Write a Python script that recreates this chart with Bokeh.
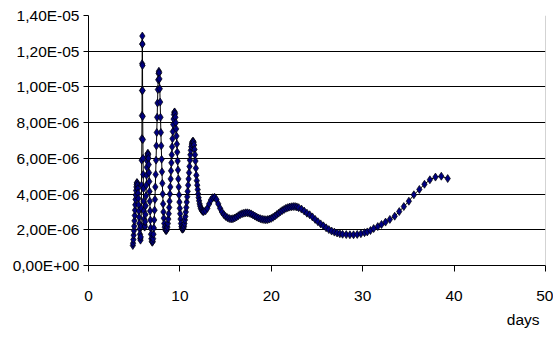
from bokeh.plotting import figure
from bokeh.models import FixedTicker, Range1d, Span, Title
from bokeh.embed import file_html
from bokeh.resources import INLINE

# x values (days) and y values (concentration, in units of 1E-06)
days = [
    4.85, 4.88, 4.91, 4.94, 4.97, 5.00, 5.03, 5.06, 5.09, 5.12, 5.15, 5.18, 5.21, 5.24, 5.27, 5.30,
    5.33, 5.36, 5.39, 5.42, 5.45, 5.48, 5.51, 5.54, 5.57, 5.60, 5.63, 5.66, 5.69,
    5.72, 5.75, 5.78, 5.80, 5.82, 5.84, 5.85, 5.86, 5.87, 5.88, 5.89, 5.90, 5.91, 5.92, 5.93, 5.95,
    5.97, 5.99, 6.01, 6.03, 6.05, 6.08, 6.11, 6.14,
    6.17, 6.20, 6.23, 6.26, 6.29, 6.32, 6.35, 6.38, 6.41, 6.44, 6.47, 6.50, 6.53,
    6.56, 6.59, 6.62, 6.65, 6.68, 6.71, 6.74, 6.77, 6.80, 6.84, 6.88, 6.93, 6.98,
    7.03, 7.07, 7.11, 7.15, 7.19, 7.23, 7.27, 7.31, 7.35, 7.39, 7.43, 7.47, 7.51, 7.55, 7.59, 7.63, 7.67, 7.70,
    7.73, 7.76, 7.80, 7.84, 7.88, 7.92, 7.96, 8.00, 8.04, 8.08, 8.12, 8.16, 8.20, 8.24, 8.29, 8.34, 8.40, 8.46, 8.52,
    8.58, 8.63, 8.68, 8.73, 8.78, 8.83, 8.87, 8.91, 8.95, 8.99, 9.03, 9.07, 9.11, 9.15, 9.19, 9.23, 9.27, 9.31, 9.35, 9.39, 9.43,
    9.47, 9.51, 9.55, 9.59, 9.63, 9.67, 9.71, 9.75, 9.79, 9.83, 9.87, 9.91, 9.95, 9.99, 10.03, 10.07, 10.12, 10.17, 10.22, 10.28, 10.34,
    10.40, 10.45, 10.50, 10.55, 10.60, 10.65, 10.70, 10.75, 10.80, 10.85, 10.90, 10.95, 11.00, 11.05, 11.10, 11.15, 11.20, 11.25, 11.30, 11.35, 11.40, 11.45,
    11.50, 11.55, 11.60, 11.65, 11.70, 11.75, 11.80, 11.85, 11.90, 11.95, 12.00, 12.05, 12.10, 12.16, 12.22, 12.29, 12.36, 12.44, 12.52, 12.60,
    12.8, 13.0, 13.2, 13.4, 13.6, 13.8, 14.0, 14.2, 14.4, 14.6, 14.8, 15.0, 15.2, 15.4, 15.6, 15.8, 16.0, 16.2, 16.4, 16.6,
    16.8, 17.0, 17.2, 17.4, 17.6, 17.8, 18.0, 18.2, 18.4, 18.6, 18.8, 19.0, 19.2, 19.4, 19.6, 19.8, 20.0, 20.2, 20.4, 20.6,
    20.8, 21.0, 21.2, 21.4, 21.6, 21.8, 22.0, 22.2, 22.4, 22.6, 22.8, 23.0,
    23.3, 23.6, 23.9, 24.2, 24.5, 24.8, 25.1, 25.4, 25.7, 26.0, 26.3, 26.6, 26.9, 27.2, 27.5, 27.8,
    28.2, 28.6, 29.0, 29.4, 29.8, 30.2, 30.5,
    30.85, 31.2, 31.65, 32.06, 32.5, 32.97, 33.5, 34.0, 34.5, 35.05, 35.6, 36.2, 36.76, 37.35, 37.96, 38.6, 39.3,
]

conc_e6 = [
    1.12, 1.25, 1.45, 1.70, 1.95, 2.20, 2.50, 2.80, 3.10, 3.40, 3.70, 3.95, 4.20, 4.40, 4.55, 4.65,
    4.62, 4.50, 4.30, 4.05, 3.75, 3.40, 3.05, 2.70, 2.35, 2.05, 1.75, 1.52, 1.42,
    1.60, 2.20, 3.20, 4.50, 5.90, 7.10, 8.40, 9.80, 11.30, 12.40, 12.85, 12.40, 11.20, 9.80, 8.35, 7.05,
    6.00, 5.10, 4.30, 3.60, 3.05, 2.60, 2.30, 2.15,
    2.20, 2.45, 2.85, 3.35, 3.90, 4.50, 5.05, 5.50, 5.85, 6.10, 6.25, 6.29, 6.20,
    6.00, 5.65, 5.20, 4.70, 4.15, 3.60, 3.05, 2.55, 2.10, 1.75, 1.50, 1.35, 1.30,
    1.35, 1.50, 1.75, 2.10, 2.55, 3.10, 3.70, 4.40, 5.10, 5.90, 6.70, 7.45, 8.30, 9.10, 9.85, 10.40, 10.75, 10.88,
    10.80, 10.45, 9.90, 9.15, 8.30, 7.45, 6.70, 5.95, 5.25, 4.60, 4.00, 3.45, 3.00, 2.65, 2.35, 2.15, 2.02, 1.96, 1.96,
    2.02, 2.15, 2.35, 2.60, 2.90, 3.25, 3.60, 4.00, 4.40, 4.85, 5.30, 5.75, 6.20, 6.65, 7.10, 7.50, 7.90, 8.20, 8.45, 8.58, 8.60,
    8.50, 8.30, 8.00, 7.65, 7.25, 6.80, 6.35, 5.85, 5.35, 4.85, 4.40, 3.95, 3.55, 3.20, 2.90, 2.60, 2.35, 2.18, 2.07, 2.03, 2.05,
    2.10, 2.20, 2.35, 2.55, 2.75, 3.00, 3.25, 3.55, 3.85, 4.15, 4.50, 4.85, 5.20, 5.55, 5.90, 6.20, 6.45, 6.65, 6.80, 6.90, 6.95, 6.96,
    6.90, 6.75, 6.50, 6.20, 5.85, 5.45, 5.05, 4.75, 4.50, 4.25, 4.00, 3.80, 3.62, 3.45, 3.32, 3.20, 3.12, 3.06, 3.03, 3.02,
    3.06, 3.20, 3.45, 3.67, 3.80, 3.82, 3.70, 3.45, 3.20, 3.00, 2.85, 2.75, 2.68, 2.63, 2.61, 2.62, 2.66, 2.72, 2.79, 2.85,
    2.90, 2.93, 2.95, 2.95, 2.93, 2.89, 2.83, 2.77, 2.71, 2.66, 2.62, 2.59, 2.57, 2.56, 2.57, 2.60, 2.64, 2.70, 2.77, 2.85,
    2.93, 3.01, 3.08, 3.14, 3.20, 3.24, 3.27, 3.29, 3.30, 3.30, 3.28, 3.24,
    3.16, 3.05, 2.93, 2.84, 2.72, 2.58, 2.45, 2.33, 2.22, 2.11, 2.01, 1.93, 1.87, 1.82, 1.78, 1.75,
    1.73, 1.72, 1.72, 1.74, 1.78, 1.84, 1.88,
    1.96, 2.07, 2.18, 2.30, 2.43, 2.58, 2.76, 3.02, 3.30, 3.60, 3.96, 4.26, 4.55, 4.80, 4.95, 5.00, 4.87,
]

x_ticks = [0, 10, 20, 30, 40, 50]
y_ticks = [0, 2, 4, 6, 8, 10, 12, 14]
y_tick_labels = ["0,00E+00", "2,00E-06", "4,00E-06", "6,00E-06",
                 "8,00E-06", "1,00E-05", "1,20E-05", "1,40E-05"]
x_title = "days"

assert len(days) == len(conc_e6)

FONT = "Liberation Sans"
FSIZE = "15.5px"

p = figure(width=553, height=337, output_backend="svg", toolbar_location=None,
           x_range=Range1d(0, 50), y_range=Range1d(0, 14),
           min_border_left=88, min_border_right=8, min_border_top=15, min_border_bottom=72)
p.background_fill_color = "white"
p.border_fill_color = "white"
p.outline_line_color = None

p.xgrid.visible = False
p.ygrid.ticker = FixedTicker(ticks=y_ticks)
p.ygrid.grid_line_color = "black"
p.ygrid.grid_line_width = 1

p.xaxis.ticker = FixedTicker(ticks=x_ticks)
p.yaxis.ticker = FixedTicker(ticks=y_ticks)
p.yaxis.major_label_overrides = {t: l for t, l in zip(y_ticks, y_tick_labels)}

for ax in (p.xaxis, p.yaxis):
    ax.axis_line_color = "black"
    ax.axis_line_width = 1
    ax.major_tick_line_color = "black"
    ax.minor_tick_line_color = None
    ax.major_tick_in = 0
    ax.major_label_text_font = FONT
    ax.major_label_text_font_size = FSIZE
    ax.major_label_text_color = "black"

p.xaxis.major_tick_out = 6
p.xaxis.major_label_standoff = 19
p.yaxis.major_tick_out = 5
p.yaxis.major_label_standoff = 4

p.add_layout(Span(location=50, dimension="height", line_color="#a8a8a8", line_width=1))

p.line(days, conc_e6, line_color="black", line_width=1)
p.scatter(days, conc_e6, marker="diamond", size=8, fill_color="#000080",
          line_color="black", line_width=0.7)

p.add_layout(Title(text=x_title, align="right", offset=6, standoff=11,
                   text_font=FONT, text_font_size=FSIZE, text_font_style="normal",
                   text_color="black"), "below")

open("out.html", "w").write(file_html(p, INLINE))
